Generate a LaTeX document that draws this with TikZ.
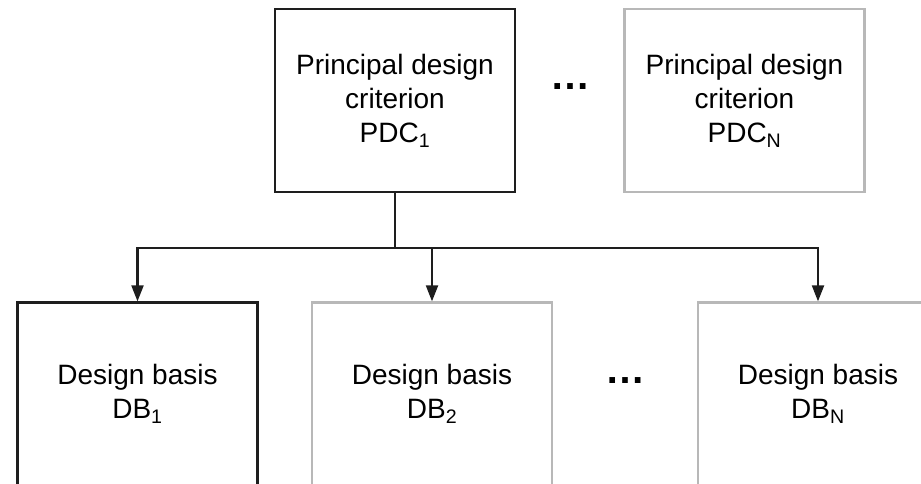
\documentclass[tikz,border=0pt]{standalone}
\usepackage{fontspec}
\setmainfont{Liberation Sans}
\usetikzlibrary{arrows.meta}
\definecolor{dark}{HTML}{1E1E1E}
\definecolor{lite}{HTML}{B8B8B8}
\begin{document}
\begin{tikzpicture}[x=1pt,y=1pt,
  box/.style={draw=dark,line width=2.3pt,minimum width=240pt,minimum height=183pt,inner sep=0pt,align=center,
    font=\fontsize{28}{34}\selectfont,text=black},
  greybox/.style={box,draw=lite},
  conn/.style={draw=dark,line width=2.1pt},
  arr/.style={conn,-{Triangle[length=16pt,width=12pt]}},
  dots/.style={font=\fontsize{40}{40}\selectfont\bfseries,inner sep=0pt}]
\useasboundingbox (0,0) rectangle (921,-483);
\begin{scope}
\clip (0,0) rectangle (921,-483);
\node[box] (pdc1) at (395,-100.5) {Principal design\\criterion\\PDC\textsubscript{1}};
\node[greybox] (pdcn) at (744.5,-100.5) {Principal design\\criterion\\PDC\textsubscript{N}};
\node[box] (db1) at (137.5,-394) {Design basis\\DB\textsubscript{1}};
\node[greybox] (db2) at (432,-394) {Design basis\\DB\textsubscript{2}};
\node[greybox] (dbn) at (818,-394) {Design basis\\DB\textsubscript{N}};
\node[dots] (d1) at (570,-87) {…};
\node[dots] (d2) at (625,-381) {…};
\coordinate (j) at (395,-248);
\draw[conn] (pdc1.south) -- (j);
\draw[arr] (j) -| (db1.north);
\draw[arr] (j) -| (db2.north);
\draw[arr] (j) -| (dbn.north);
\end{scope}
\end{tikzpicture}
\end{document}
